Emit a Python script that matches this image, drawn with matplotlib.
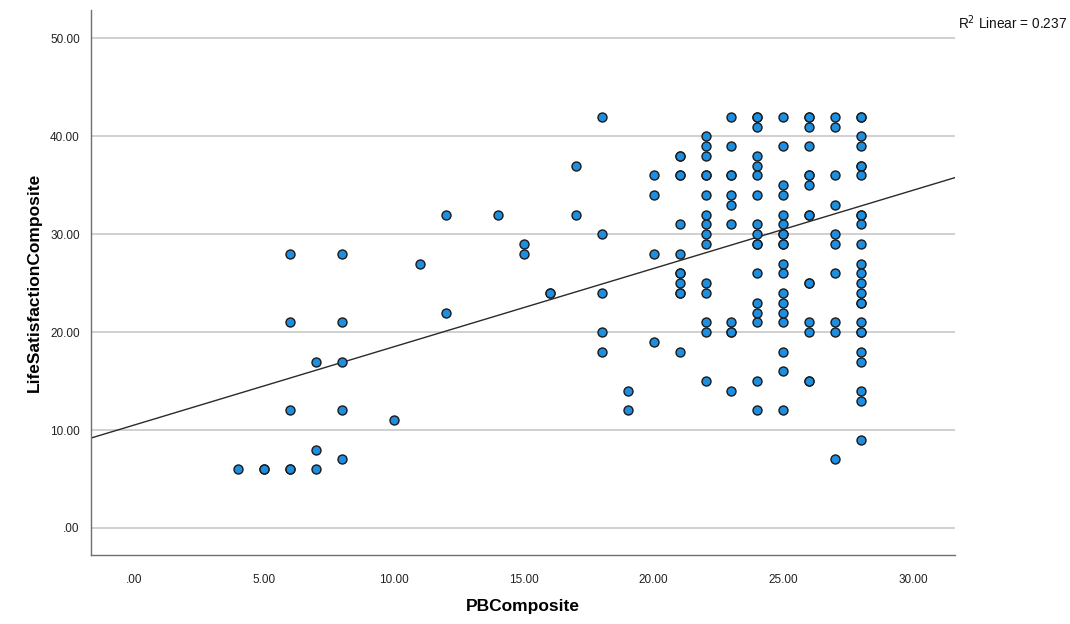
import numpy as np
import matplotlib
matplotlib.use("Agg")
import matplotlib.pyplot as plt
from matplotlib.ticker import FuncFormatter

# PBComposite -> LifeSatisfactionComposite values per column
pb_x = [4, 5, 6, 7, 8, 10, 11, 12, 14, 15, 16, 17, 18, 19, 20,
        21, 22, 23, 24, 25, 26, 27, 28]
ls_y = [
    [6],
    [6, 6],
    [28, 21, 12, 6, 6],
    [17, 8, 6],
    [28, 21, 17, 12, 7],
    [11],
    [27],
    [32, 22],
    [32],
    [29, 28],
    [24, 24],
    [37, 32],
    [42, 30, 24, 20, 18],
    [14, 12],
    [36, 34, 28, 19],
    [38, 38, 36, 36, 31, 28, 26, 26, 25, 24, 24, 18],
    [40, 39, 38, 36, 36, 34, 32, 31, 30, 29, 25, 24, 21, 20, 15],
    [42, 39, 36, 36, 34, 33, 31, 21, 20, 20, 14],
    [42, 42, 41, 38, 37, 36, 34, 31, 30, 29, 29, 26, 23, 22, 21, 15, 12],
    [42, 39, 35, 34, 32, 31, 30, 30, 29, 29, 27, 26, 24, 23, 22, 21, 18, 16, 12],
    [42, 42, 41, 39, 36, 36, 35, 32, 32, 25, 25, 21, 20, 15, 15],
    [42, 41, 36, 33, 30, 29, 26, 21, 20, 7],
    [42, 42, 40, 39, 37, 37, 36, 32, 32, 31, 29, 27, 26, 25, 24, 23, 23, 21, 20, 20,
     18, 17, 14, 13, 9],
]

# linear fit shown in the chart (R2 = 0.237)
fit_intercept = 10.5
fit_slope = 0.80
r2_text = r"R$^2$ Linear = 0.237"

x = np.concatenate([[px] * len(col) for px, col in zip(pb_x, ls_y)]).astype(float)
y = np.concatenate(ls_y).astype(float)

fig = plt.figure(figsize=(10.7, 6.24), dpi=100)
ax = fig.add_axes([0.085, 0.1106, 0.8075, 0.8734])

xlim = (-1.65, 31.6)
ax.set_xlim(xlim)
ax.set_ylim(-2.76, 52.9)

ax.set_yticks(range(0, 51, 10))
ax.set_xticks(range(0, 31, 5))
fmt = FuncFormatter(lambda v, p: ".00" if v == 0 else f"{v:.2f}")
ax.xaxis.set_major_formatter(fmt)
ax.yaxis.set_major_formatter(fmt)
ax.tick_params(length=0, labelsize=8.5, colors="#222222", pad=14)
ax.tick_params(axis="y", pad=8)
for lab in ax.get_xticklabels() + ax.get_yticklabels():
    lab.set_family("Liberation Sans")

ax.grid(axis="y", color="#c8c8c8", linewidth=1.2)
ax.set_axisbelow(True)
for side in ["top", "right"]:
    ax.spines[side].set_visible(False)
for side in ["left", "bottom"]:
    ax.spines[side].set_color("#707070")
    ax.spines[side].set_linewidth(1.0)

xx = np.array(xlim)
ax.plot(xx, fit_intercept + fit_slope * xx, color="#2a2a2a", linewidth=1.0, zorder=2)

ax.scatter(x, y, s=42, facecolor="#1e8ee0", edgecolor="#1a1a1a",
           linewidth=1.0, zorder=3)

ax.set_xlabel("PBComposite", fontsize=12.5, fontweight="bold",
              family="Liberation Sans", labelpad=9)
ax.set_ylabel("LifeSatisfactionComposite", fontsize=12.5, fontweight="bold",
              family="Liberation Sans", labelpad=6)

fig.text(0.895, 0.953, r2_text, fontsize=9.8,
         family="Liberation Sans", color="#111111")

fig.savefig("out.png", dpi=100)
